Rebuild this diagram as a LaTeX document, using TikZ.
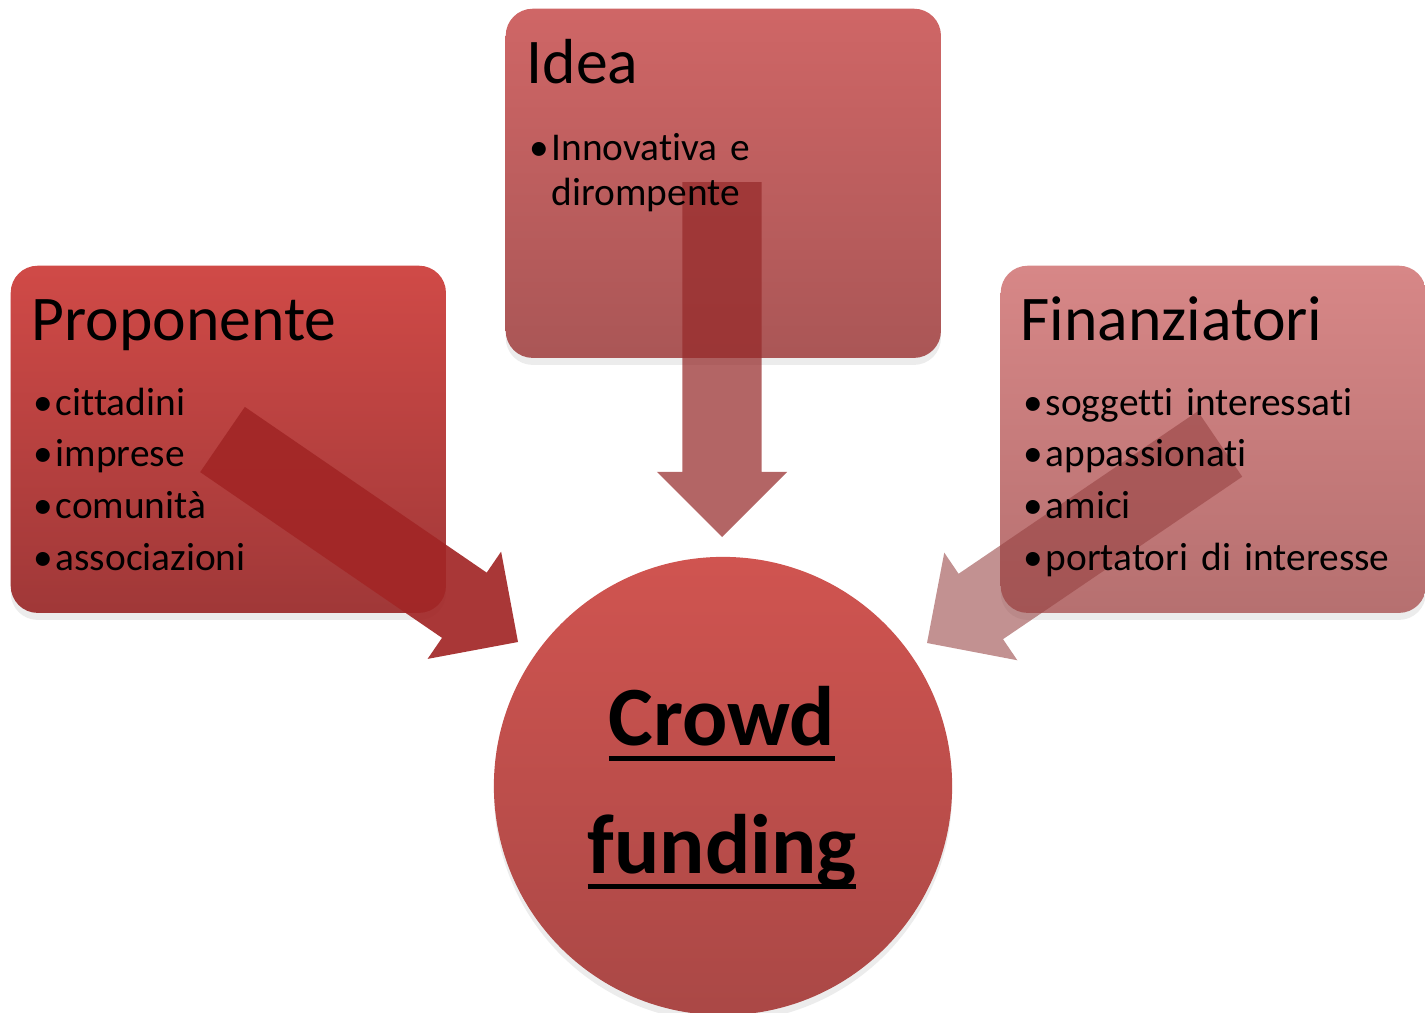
\documentclass[tikz,border=0pt]{standalone}
\usepackage{fontspec}
\setmainfont{Carlito}[Ligatures=NoCommon]
\usetikzlibrary{calc,shadows}
\definecolor{propTop}{RGB}{208,74,71}
\definecolor{propBottom}{RGB}{160,56,56}
\definecolor{ideaTop}{RGB}{207,102,102}
\definecolor{ideaBottom}{RGB}{170,86,86}
\definecolor{finTop}{RGB}{215,135,135}
\definecolor{finBottom}{RGB}{182,112,112}
\definecolor{crowdTop}{RGB}{208,84,80}
\definecolor{crowdBottom}{RGB}{170,72,70}
\definecolor{propArrow}{RGB}{162,38,38}
\definecolor{ideaArrow}{RGB}{150,42,42}
\definecolor{finArrow}{RGB}{150,65,65}
\newlength{\largh}
\newcommand{\sottolinea}[1]{\leavevmode\settowidth{\largh}{#1}\rlap{\rule[-0.155cm]{\largh}{0.05cm}}#1}
\newcommand{\voce}[1]{\makebox[0.22cm][l]{\textbullet}#1}
\tikzset{
  riquadro/.style={rounded corners=0.27cm, minimum width=4.35cm, minimum height=3.47cm, anchor=north west, inner sep=0pt, drop shadow={opacity=0.15, shadow xshift=0pt, shadow yshift=-2pt}},
  cerchio/.style={circle, minimum size=4.58cm, inner sep=0pt, top color=crowdTop, bottom color=crowdBottom, drop shadow={opacity=0.15, shadow xshift=0pt, shadow yshift=-2pt}},
  titolo/.style={anchor=base west, inner sep=0pt, font=\fontsize{18.1pt}{21pt}\selectfont},
  lista/.style={anchor=base west, inner sep=0pt, text width=4cm, align=left, font=\fontsize{11.2pt}{14.7pt}\selectfont},
  blocco/.style={to path={($(\tikztostart)!0.395cm!90:(\tikztotarget)$) -- ($(\tikztotarget)!0.65cm!(\tikztostart)!0.395cm!90:(\tikztotarget)$) -- ($(\tikztotarget)!0.65cm!(\tikztostart)!0.65cm!90:(\tikztotarget)$) -- (\tikztotarget) -- ($(\tikztotarget)!0.65cm!(\tikztostart)!0.65cm!-90:(\tikztotarget)$) -- ($(\tikztotarget)!0.65cm!(\tikztostart)!0.395cm!-90:(\tikztotarget)$) -- ($(\tikztostart)!0.395cm!-90:(\tikztotarget)$) -- cycle}}
}
\begin{document}
\begin{tikzpicture}[x=0.01cm, y=-0.01cm]
  \useasboundingbox (0,0) rectangle (1425,1012);
  % boxes and circle
  \node[cerchio] (crowd) at (723,786) {};
  \node[riquadro, top color=ideaTop, bottom color=ideaBottom, minimum height=3.49cm] (idea) at (505,8) {};
  \node[riquadro, top color=propTop, bottom color=propBottom] (prop) at (10,265) {};
  \node[riquadro, top color=finTop, bottom color=finBottom, minimum width=4.25cm] (fin) at (1000,265) {};
  % arrows
  \coordinate (ideaFrom) at (722,182);
  \coordinate (ideaTo) at (722,537);
  \coordinate (propFrom) at (222.5,439.5);
  \coordinate (propTo) at (518,642);
  \coordinate (finFrom) at (1220,444);
  \coordinate (finTo) at (927,643);
  \fill[blocco, fill=ideaArrow, fill opacity=0.72] (ideaFrom) to (ideaTo);
  \fill[blocco, fill=propArrow, fill opacity=0.92] (propFrom) to (propTo);
  \fill[blocco, fill=finArrow, fill opacity=0.58] (finFrom) to (finTo);
  % texts
  \node[titolo] (ideaTitle) at (526,83) {Idea};
  \node[lista, font=\fontsize{11.2pt}{12.8pt}\selectfont] (ideaList) at (529,160) {\voce{Innovativa e}\\\hspace*{0.22cm}dirompente};
  \node[titolo] (propTitle) at (31,340) {Proponente};
  \node[lista] (propList) at (33,415) {\voce{cittadini}\\\voce{imprese}\\\voce{comunità}\\\voce{associazioni}};
  \node[titolo] (finTitle) at (1020,340) {Finanziatori};
  \node[lista] (finList) at (1023,415) {\voce{soggetti interessati}\\\voce{appassionati}\\\voce{amici}\\\voce{portatori di interesse}};
  \node[anchor=base, inner sep=0pt, text width=4cm, align=center, font=\bfseries\fontsize{24pt}{36.4pt}\selectfont] (crowdText) at (722,745) {\sottolinea{Crowd}\\\sottolinea{funding}};
\end{tikzpicture}
\end{document}
